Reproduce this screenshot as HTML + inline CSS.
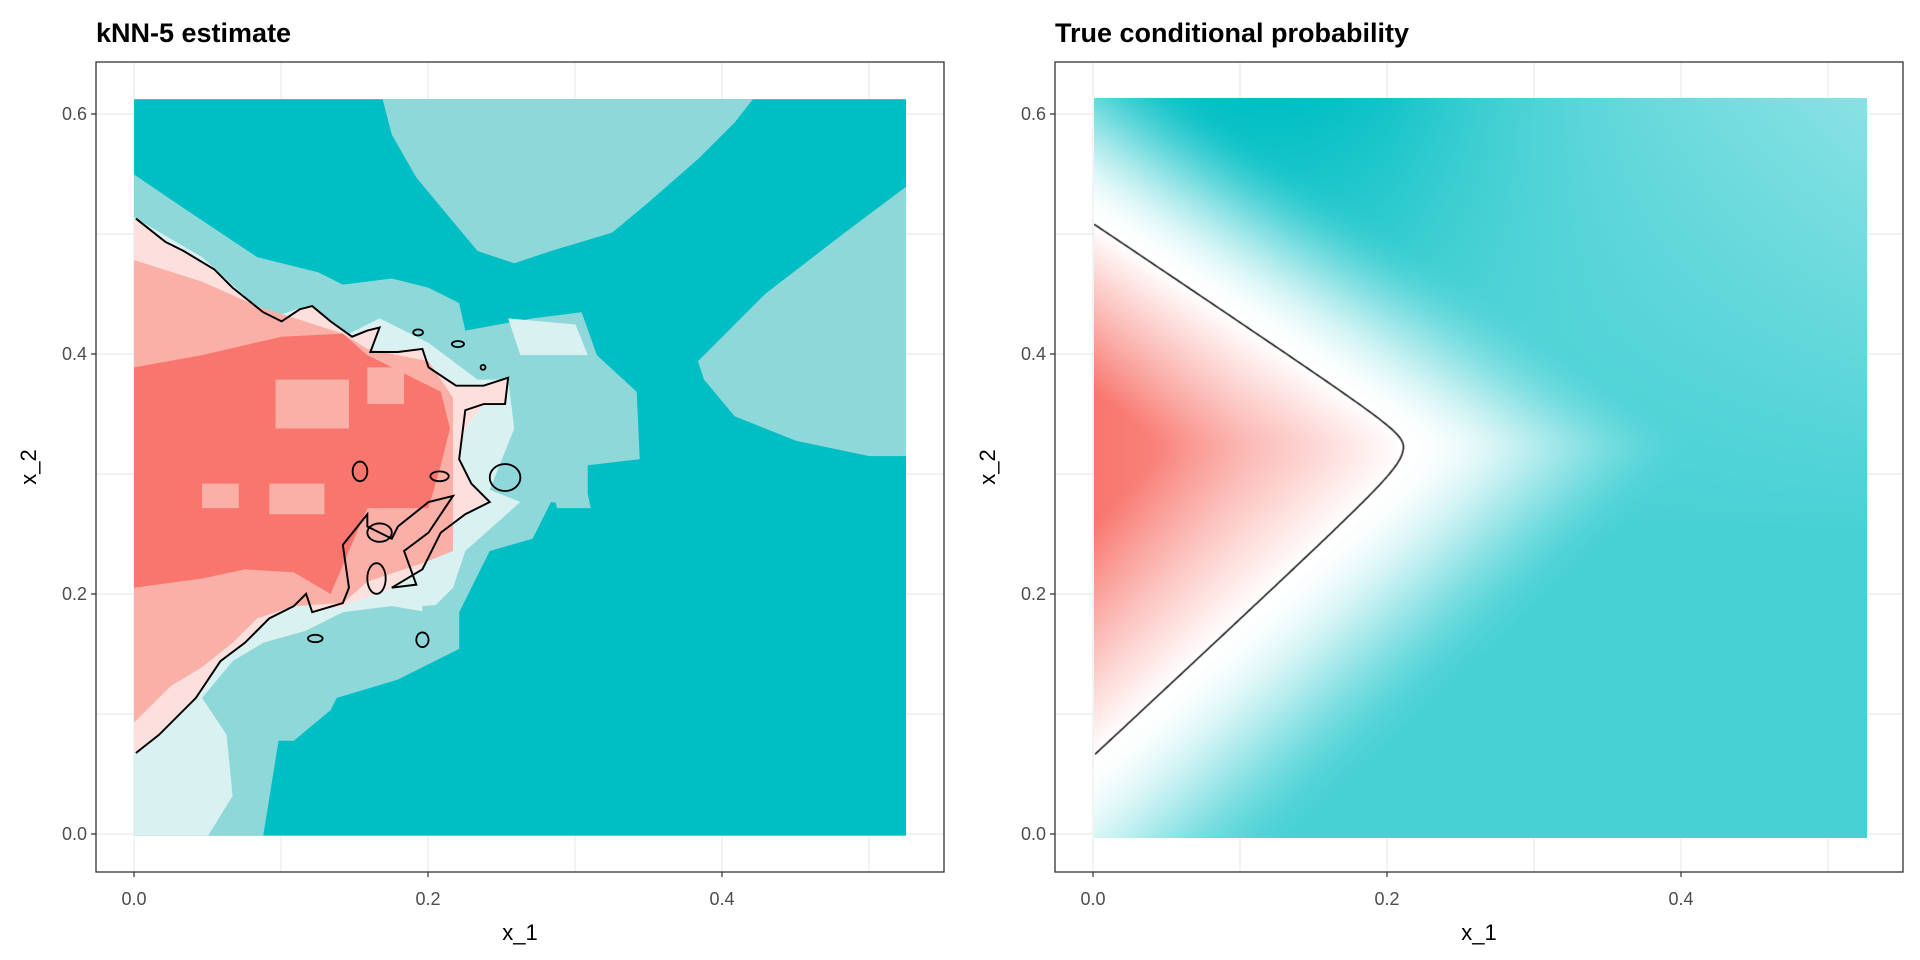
<!DOCTYPE html>
<html><head><meta charset="utf-8"><style>
html,body{margin:0;padding:0;background:#fff;}
#c{position:absolute;left:1093.5px;top:98px;width:773.5px;height:739.6px;}
svg{position:absolute;left:0;top:0;}
text{font-family:"Liberation Sans",Arial,sans-serif;}
</style></head><body>
<svg width="1920" height="960" viewBox="0 0 1920 960">
<g stroke="#EBEBEB" stroke-width="1.2" fill="none">
<path d="M134 62V872M281 62V872M428 62V872M575 62V872M722 62V872M869 62V872"/>
<path d="M96 834H944M96 714H944M96 594H944M96 474H944M96 354H944M96 234H944M96 114H944"/>
<path d="M1093 62V872M1240 62V872M1387 62V872M1534 62V872M1681 62V872M1828 62V872"/>
<path d="M1055 834H1903M1055 714H1903M1055 594H1903M1055 474H1903M1055 354H1903M1055 234H1903M1055 114H1903"/>
</g>
<g transform="scale(0.6122)">
<rect x="219" y="162" width="1261" height="1203" fill="#00BFC4"/>
<polygon fill="#8FD8DA" points="625,162 1230,162 1200,200 1140,260 1060,330 1000,380 900,410 840,430 780,410 730,350 680,290 640,220"/>
<polygon fill="#8FD8DA" points="1480,305 1480,745 1420,745 1300,720 1200,680 1150,620 1140,590 1250,480 1380,380"/>
<polygon fill="#8FD8DA" points="219,285 300,340 420,420 520,445 560,465 640,455 700,470 750,495 760,540 870,520 950,510 975,580 1040,640 1045,750 960,760 960,830 900,820 870,880 800,900 750,1000 750,1060 650,1110 550,1140 540,1160 480,1210 455,1210 430,1365 340,1365 350,1250 330,1160 219,1200"/>
<polygon fill="#DAF1F2" points="219,1200 330,1140 370,1200 380,1300 340,1365 219,1365"/>
<polygon fill="#DAF1F2" points="219,355 330,420 440,520 500,500 560,550 620,520 700,560 780,620 830,620 840,700 800,800 850,820 760,900 740,960 700,1000 640,990 560,1000 500,1030 430,1050 380,1080 330,1140 219,1200"/>
<polygon fill="#DAF1F2" points="830,520 940,530 960,580 900,580 850,580"/>
<polygon fill="#FDE0DD" points="219,355 270,395 300,410 350,440 380,470 430,510 460,525 490,505 510,500 540,525 575,550 600,540 620,535 605,575 650,575 690,570 700,600 745,630 790,630 830,617 825,660 790,660 760,700 750,750 770,790 800,820 760,840 720,870 690,930 640,960 560,990 510,1000 500,970 480,990 440,1010 400,1050 360,1080 320,1140 260,1200 222,1230 219,1230"/>
<polygon fill="#FAAFA7" points="219,425 330,460 420,500 560,545 600,570 700,590 740,650 740,900 690,920 600,950 560,985 480,990 420,1010 380,1050 330,1090 280,1120 219,1180"/>
<polygon fill="#F8766D" points="219,600 330,580 460,550 560,545 600,580 720,640 735,700 720,760 700,830 600,830 570,900 540,970 480,935 400,930 330,945 219,960"/>
<rect x="450" y="620" width="120" height="80" fill="#FAAFA7"/>
<rect x="330" y="790" width="60" height="40" fill="#FAAFA7"/>
<rect x="440" y="790" width="90" height="50" fill="#FAAFA7"/>
<rect x="600" y="600" width="60" height="60" fill="#FAAFA7"/>
<polygon fill="#8FD8DA" points="890,760 950,760 965,830 910,830"/>
<polygon fill="#8FD8DA" points="940,630 1020,620 1035,700 1040,750 960,750 940,700"/>
<polygon fill="#8FD8DA" points="690,990 750,985 750,1060 690,1060"/>
<polyline fill="none" stroke="#000" stroke-width="3.2" points="222,357 270,395 300,410 350,440 380,470 430,510 460,525 490,505 510,500 540,525 575,550 600,540 620,535 605,575 650,575 690,570 700,600 745,630 790,630 830,617 825,660 790,660 760,670 750,750 770,790 800,820 760,840 720,870 690,930 640,960 680,955 660,900 700,870 740,810 700,820 650,860 640,880 600,860 600,840 560,890 570,960 560,985 510,1000 500,970 480,990 440,1010 400,1050 360,1080 320,1140 260,1200 222,1230"/>
<g fill="none" stroke="#000" stroke-width="3">
<ellipse cx="615" cy="945" rx="15" ry="25"/><ellipse cx="690" cy="1045" rx="10" ry="12"/><ellipse cx="515" cy="1043" rx="12" ry="6"/>
<ellipse cx="588" cy="770" rx="12" ry="16"/><ellipse cx="718" cy="778" rx="15" ry="8"/><ellipse cx="825" cy="780" rx="25" ry="22"/>
<ellipse cx="683" cy="543" rx="8" ry="5"/><ellipse cx="748" cy="562" rx="10" ry="5"/><ellipse cx="789" cy="600" rx="4" ry="4"/><ellipse cx="620" cy="870" rx="20" ry="15"/>
</g>
</g>
<rect x="96" y="62" width="848" height="810" fill="none" stroke="#333" stroke-width="1.3"/>
<rect x="1055" y="62" width="848" height="810" fill="none" stroke="#333" stroke-width="1.3"/>
<g stroke="#333" stroke-width="1.2">
<path d="M134 872v5M428 872v5M722 872v5M91 834h5M91 594h5M91 354h5M91 114h5"/>
<path d="M1093 872v5M1387 872v5M1681 872v5M1050 834h5M1050 594h5M1050 354h5M1050 114h5"/>
</g>
<g font-size="18" fill="#4D4D4D">
<g text-anchor="end"><text x="87" y="840">0.0</text><text x="87" y="600">0.2</text><text x="87" y="360">0.4</text><text x="87" y="120">0.6</text>
<text x="1046" y="840">0.0</text><text x="1046" y="600">0.2</text><text x="1046" y="360">0.4</text><text x="1046" y="120">0.6</text></g>
<g text-anchor="middle"><text x="134" y="905">0.0</text><text x="428" y="905">0.2</text><text x="722" y="905">0.4</text>
<text x="1093" y="905">0.0</text><text x="1387" y="905">0.2</text><text x="1681" y="905">0.4</text></g>
</g>
<g font-size="22" fill="#000" text-anchor="middle">
<text x="520" y="940">x_1</text><text x="1479" y="940">x_1</text>
<text transform="translate(36,467) rotate(-90)">x_2</text>
<text transform="translate(995,467) rotate(-90)">x_2</text>
</g>
<g font-size="27" font-weight="bold" fill="#000">
<text x="96" y="42">kNN-5 estimate</text><text x="1055" y="42">True conditional probability</text>
</g>
</svg>
<canvas id="c" width="774" height="740"></canvas>
<script>
var c=document.getElementById('c'),ctx=c.getContext('2d');
var W=774,H=740,XM=0.5265,YT=(834-98)/1200,YB=(834-837.6)/1200;
function b(y){var dy=y-0.3225,k=dy>0?1.22:0.88;return 0.227-Math.sqrt(0.000256+k*k*dy*dy);}
function cl(v){return v<0?0:v>1?1:v;}
var img=ctx.createImageData(W,H),d=img.data;
for(var j=0;j<H;j++){var y=YT+(YB-YT)*j/(H-1),bb=b(y);
for(var i=0;i<W;i++){var x=XM*i/(W-1),s=x-bb,r,g,bl,t;
if(s>=0){var A=0.72+0.28*Math.exp(-Math.pow((x-0.12)/0.14,2))*cl((y-0.42)/0.19)-0.26*cl((y-0.25)/0.36)*cl((x-0.2)/0.33);
var u=cl(s/0.2);u=u*u*(3-2*u);t=u*A;r=255-255*t;g=255-64*t;bl=255-59*t;}
else{t=cl(-s/0.17);t=t*(0.8+0.2*cl(1-x/0.1));r=255-7*t;g=255-137*t;bl=255-146*t;}
var p=(j*W+i)*4;d[p]=r;d[p+1]=g;d[p+2]=bl;d[p+3]=255;}}
ctx.putImageData(img,0,0);
ctx.strokeStyle='#000';ctx.lineWidth=1.4;ctx.beginPath();var f=true;
for(var y=0.06;y<=0.512;y+=0.002){var x=b(y);if(x<0)continue;var px=x/XM*(W-1),py=(y-YT)/(YB-YT)*(H-1);if(f){ctx.moveTo(px,py);f=false;}else ctx.lineTo(px,py);}
ctx.stroke();
</script>
</body></html>
